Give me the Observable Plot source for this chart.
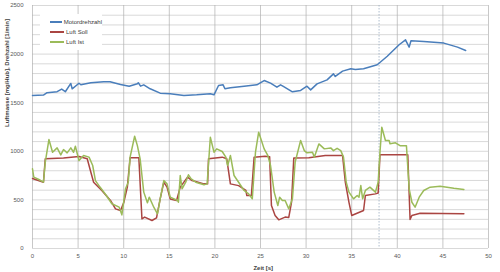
<!DOCTYPE html>
<html>
<head>
<meta charset="utf-8">
<script src="https://cdn.jsdelivr.net/npm/d3@7"></script>
<script src="https://cdn.jsdelivr.net/npm/@observablehq/plot@0.6"></script>
<style>
  html, body { margin: 0; padding: 0; background: #fff; }
  #wrap { position: relative; width: 500px; height: 272px; font-family: "Liberation Sans", Arial, sans-serif; }
  #legend { position: absolute; left: 40px; top: 14px; width: 62px; background: #fff; font-size: 6px; color: #404040; padding: 3px 0 3px 0; }
  #legend div { display: flex; align-items: center; height: 10px; }
  #legend span.sw { display: inline-block; width: 14px; height: 1.5px; margin: 0 2px 0 10px; }
</style>
</head>
<body>
<div id="wrap"><div id="legend"></div></div>
<script>
// Series names
const seriesNames = ["Motordrehzahl", "Luft Soll", "Luft Ist"];
const seriesColors = ["#4A7EBB", "#AA4542", "#9BBB59"];

// Motordrehzahl (time [s], value)
const rpmT = [0,1.2,1.6,2.7,3.2,3.6,4.2,4.35,5.1,5.3,6.4,7.8,8.5,9.65,10.6,11.5,11.6,11.85,12.2,12.9,14.0,15.1,16.6,18.0,19.5,19.9,20.4,20.9,21.1,21.7,23.2,24.6,25.4,26.1,26.8,27.2,27.5,28.5,29.4,30.1,30.5,31.2,32.3,33.0,33.2,34.0,34.9,35.4,36.3,37.8,38.9,40.2,40.9,41.3,41.5,42.9,45.1,46.6,47.5];
const rpmV = [1575,1578,1603,1613,1640,1613,1698,1643,1700,1685,1705,1715,1715,1688,1670,1694,1705,1670,1684,1643,1598,1592,1574,1581,1592,1581,1677,1684,1643,1653,1670,1684,1728,1701,1660,1684,1667,1612,1626,1670,1632,1694,1735,1797,1770,1825,1849,1842,1849,1890,1978,2096,2147,2072,2137,2130,2113,2072,2037];

// Luft Soll
const sollT = [0,1.2,1.4,3.4,5.1,6.0,6.4,6.7,7.6,8.55,9.1,9.65,10.0,10.4,10.7,11.66,12.0,12.3,13.1,13.6,14.0,14.4,14.75,15.1,15.8,16.2,17.0,17.5,18.8,19.2,19.3,20.8,21.3,21.7,22.6,23.4,23.5,24.0,24.3,25.5,26.0,26.2,26.6,27.0,27.7,28.1,28.4,28.65,30.3,32.1,34.0,34.3,34.7,35.0,36.3,36.5,37.6,37.9,38.1,41.15,41.4,41.6,42.5,47.3];
const sollV = [720,682,923,930,946,923,785,682,597,494,408,391,470,632,933,933,305,323,288,316,510,682,632,510,494,631,734,699,665,665,923,940,923,665,647,597,545,545,940,950,945,442,340,295,323,320,475,930,933,957,957,682,475,340,391,545,562,570,964,964,298,340,363,357];

// Luft Ist
const istT = [0,0.14,0.7,1.2,1.4,1.8,2.2,2.7,3.1,3.4,3.8,4.2,4.5,4.7,5.1,5.6,6.2,6.6,6.9,7.4,8.1,8.7,9.5,9.8,10.2,10.5,10.7,11.2,11.5,11.8,12.2,12.6,12.8,13.3,13.7,14.0,14.4,14.75,15.1,15.9,16.0,16.2,16.4,16.8,17.1,17.4,17.9,18.8,19.15,19.5,19.9,20.2,20.8,21.2,21.4,21.7,22.1,22.6,23.2,23.7,24.1,24.45,24.8,25.1,25.4,25.8,26.1,26.5,26.9,27.1,27.4,27.7,28.1,28.5,28.8,29.4,29.8,30.1,30.7,30.9,31.4,32.0,32.7,33.0,33.4,33.8,34.1,34.4,34.7,35.2,35.6,35.8,36.0,36.2,36.5,37.0,37.6,37.9,38.1,38.3,38.7,39.1,39.2,39.8,40.3,41.0,41.3,41.6,41.95,42.4,42.9,43.6,44.7,46.2,47.3];
const istV = [820,734,710,682,889,1121,990,1035,963,1018,984,1035,990,1052,905,957,940,854,699,632,545,460,425,346,614,682,940,1155,1058,923,580,470,528,425,356,510,699,665,528,494,476,751,614,682,758,717,682,655,665,1145,991,1025,998,940,854,957,751,682,597,562,511,991,1197,1111,1025,957,854,580,442,528,494,494,408,511,889,1111,1007,984,990,940,1076,1025,1035,1007,1031,1007,940,682,580,511,545,528,648,511,597,631,580,682,991,1248,1111,1111,1077,1087,1058,1058,614,476,425,528,597,631,641,620,607];

// Axis ticks and marker
const xTicks = d3.range(0, 51, 5);
const yTicks = d3.range(0, 2501, 500);
const yGrid = d3.range(0, 2501, 100);
const markerT = [38];

const toRows = (T, V, name) => T.map((t, i) => ({t, v: V[i], name}));
const rows = [
  ...toRows(rpmT, rpmV, seriesNames[0]),
  ...toRows(sollT, sollV, seriesNames[1]),
  ...toRows(istT, istV, seriesNames[2])
];

const chart = Plot.plot({
  width: 500,
  height: 272,
  marginLeft: 32,
  marginRight: 12,
  marginTop: 5,
  marginBottom: 24,
  style: { fontFamily: "Liberation Sans, Arial, sans-serif", fontSize: "6px", color: "#595959", background: "#fff" },
  x: { domain: [0, 50] },
  y: { domain: [0, 2500] },
  color: { domain: seriesNames, range: seriesColors },
  marks: [
    Plot.ruleY(yGrid, { stroke: "#c8c8c8", strokeWidth: 0.7 }),
    Plot.ruleX(xTicks, { stroke: "#b0b0b0", strokeWidth: 0.7 }),
    Plot.ruleX(markerT, { stroke: "#9aacc0", strokeWidth: 0.8, strokeDasharray: "1.5,1.5" }),
    Plot.axisX({ ticks: xTicks, tickSize: 0, tickPadding: 5, tickFormat: d => String(d), label: null }),
    Plot.axisY({ ticks: yTicks, tickSize: 0, tickPadding: 9, tickFormat: d => String(d), label: null }),
    Plot.line(rows, { x: "t", y: "v", z: "name", stroke: "name", strokeWidth: 1.5 }),
    Plot.text(["Zeit [s]"], { x: 25.3, frameAnchor: "bottom", dy: 21, fontWeight: "bold", fontSize: 6, fill: "#404040" }),
    Plot.text(["Luftmasse [mg/Hub], Drehzahl [1/min]"], { frameAnchor: "left", dx: -25, rotate: -90, fontWeight: "bold", fontSize: 6, fill: "#404040" })
  ]
});
document.getElementById("wrap").prepend(chart);
chart.style.display = "block";

const legend = document.getElementById("legend");
seriesNames.forEach((n, i) => {
  const row = document.createElement("div");
  row.innerHTML = `<span class="sw" style="background:${seriesColors[i]}"></span><span>${n}</span>`;
  legend.appendChild(row);
});
</script>
</body>
</html>
